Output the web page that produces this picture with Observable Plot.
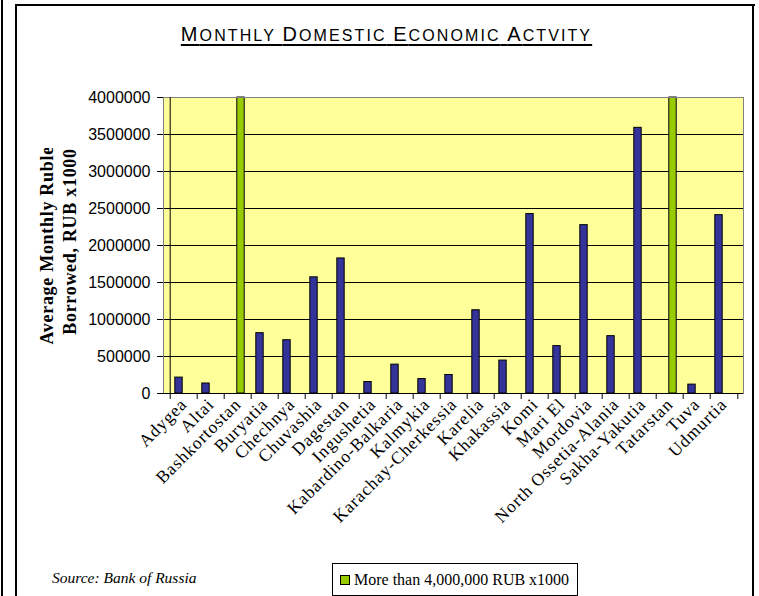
<!DOCTYPE html>
<html><head><meta charset="utf-8">
<script src="https://cdn.jsdelivr.net/npm/d3@7"></script>
<script src="https://cdn.jsdelivr.net/npm/@observablehq/plot@0.6"></script>
<style>
body{margin:0;background:#fff;}
#page{position:relative;width:759px;height:596px;overflow:hidden;background:#fff;}
.ln{position:absolute;background:#000;}
#title{position:absolute;left:7px;width:759px;top:22px;text-align:center;font-family:"Liberation Sans",Arial,sans-serif;letter-spacing:2.1px;text-decoration:underline;text-decoration-thickness:2px;text-underline-offset:3px;color:#000;line-height:24px;}
#title .b{font-size:20px;}
#title .s{font-size:16px;text-transform:uppercase;}
#chart{position:absolute;left:0;top:70px;}
#source{position:absolute;left:52px;top:569px;font:italic 15.5px "Liberation Serif",serif;}
#legend{position:absolute;left:332px;top:563px;width:246px;height:33px;border:1px solid #000;box-sizing:border-box;display:flex;align-items:center;font:16px "Liberation Serif",serif;background:#fff;}
.sw{width:8px;height:8px;background:#99CC00;border:1px solid #000;margin:0 4px 0 7px;}
</style></head>
<body>
<div id="page">
  <div class="ln" style="left:1px;top:0;width:2px;height:596px"></div>
  <div class="ln" style="left:15px;top:4px;width:2px;height:600px"></div>
  <div class="ln" style="left:15px;top:4px;width:740px;height:2px"></div>
  <div class="ln" style="left:752px;top:4px;width:2px;height:600px"></div>
  <div id="title"></div>
  <div id="chart"></div>
  <div id="source">Source: Bank of Russia</div>
  <div id="legend"><div class="sw"></div><span id="legtext"></span></div>
</div>
<script>
const titleText = "Monthly Domestic Economic Actvity";
const regions = ["Adygea","Altai","Bashkortostan","Buryatia","Chechnya","Chuvashia","Dagestan","Ingushetia","Kabardino-Balkaria","Kalmykia","Karachay-Cherkessia","Karelia","Khakassia","Komi","Mari El","Mordovia","North Ossetia-Alania","Sakha-Yakutia","Tatarstan","Tuva","Udmurtia"];
const borrowed = [215000,135000,null,815000,720000,1570000,1825000,155000,390000,195000,250000,1125000,445000,2425000,640000,2275000,775000,3590000,null,120000,2410000];
const over4M = [null,null,4000000,null,null,null,null,null,null,null,null,null,null,null,null,null,null,null,4000000,null,null];
const yTicks = [0,500000,1000000,1500000,2000000,2500000,3000000,3500000,4000000];
const yLabel = "Average Monthly Rubles\nBorrowed, RUB x1000";
const legendLabel = "More than 4,000,000 RUB x1000";

// title in small caps: first letter of each word full size, rest smaller capitals
const tEl = document.getElementById("title");
titleText.split(" ").forEach((w,i)=>{
  if(i>0) tEl.appendChild(document.createTextNode(" "));
  const b=document.createElement("span"); b.className="b"; b.textContent=w[0]; tEl.appendChild(b);
  const s=document.createElement("span"); s.className="s"; s.textContent=w.slice(1); tEl.appendChild(s);
});
document.getElementById("legtext").textContent = legendLabel;

const W=759,H=480,mL=163,mR=16,mT=27,mB=157;
const bw=(W-mL-mR)/regions.length;
const rows = regions.map((r,i)=>({region:r, borrowed:borrowed[i], over:over4M[i]}));

const chart = Plot.plot({
  width:W,height:H,marginLeft:mL,marginRight:mR,marginTop:mT,marginBottom:mB,
  style:{fontFamily:"Liberation Serif", background:"transparent", overflow:"visible", color:"#000"},
  x:{domain:regions,padding:0,axis:null},
  y:{domain:[0,4000000],axis:null},
  marks:[
    Plot.frame({fill:"#FFFF99"}),
    Plot.gridY(yTicks,{stroke:"#000",strokeOpacity:1}),
    Plot.barY(rows.filter(d=>d.borrowed!=null),{x:"region",y:"borrowed",fill:"#333399",stroke:"#000",strokeWidth:1,insetLeft:bw/2-9,insetRight:bw/2+1}),
    Plot.barY(rows.filter(d=>d.over!=null),{x:"region",y:"over",fill:"#99CC00",stroke:"#000",strokeWidth:1,insetLeft:bw/2-1,insetRight:bw/2-7}),
    Plot.frame({stroke:"#808080"}),
    Plot.ruleY([0],{stroke:"#000"}),
    Plot.ruleX([regions[0]],{dx:-bw/2,stroke:"#000"}),
    Plot.axisY({ticks:yTicks,tickFormat:d3.format("d"),tickSize:6,tickPadding:7,fontSize:16,fontFamily:"Liberation Sans",label:null}),
    Plot.axisX({ticks:regions,tickFormat:()=>"",tickSize:6,dx:-bw/2,label:null}),
    Plot.axisX({ticks:[regions[regions.length-1]],tickFormat:()=>"",tickSize:6,dx:bw/2,label:null}),
    Plot.axisX({ticks:regions,tickSize:0,tickRotate:-45,tickPadding:0,fontSize:17.5,dx:0,dy:8,label:null}),
    Plot.text([yLabel],{frameAnchor:"left",textAnchor:"middle",lineAnchor:"middle",rotate:-90,dx:-106,dy:-4,fontSize:18,fontWeight:"bold",lineHeight:1.28})
  ]
});
document.getElementById("chart").appendChild(chart);

const svg = d3.select(chart);
svg.selectAll("g[aria-label='x-axis tick label']").style("letter-spacing","0.9px");
// clip the y label like the reference (top cut)
const cid = "ylabclip";
svg.append("defs").append("clipPath").attr("id",cid).append("rect").attr("x",0).attr("y",78).attr("width",W).attr("height",H);
const labelG = svg.selectAll("g[aria-label='text']").node();
if (labelG) {
  d3.select(labelG).style("letter-spacing","0.7px");
  const wrap = svg.append("g").attr("clip-path",`url(#${cid})`);
  wrap.node().appendChild(labelG);
}
</script>
</body></html>
